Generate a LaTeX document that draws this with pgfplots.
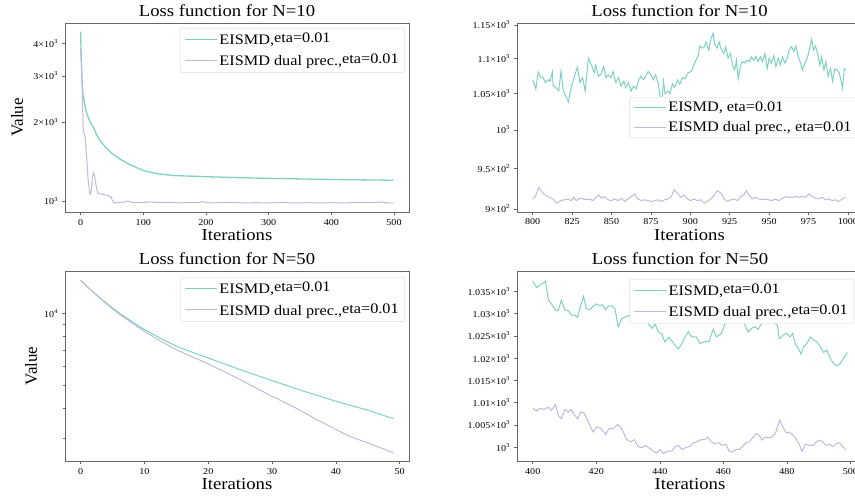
\documentclass[border=0pt]{standalone}
\usepackage{fontspec}
\setmainfont{Liberation Serif}[FakeStretch=1.12]
\newfontfamily\plainserif{Liberation Serif}
\usepackage{pgfplots}
\pgfplotsset{compat=1.18}

\definecolor{eisgreen}{RGB}{125,211,192}
\definecolor{eispurple}{RGB}{190,186,218}
\newcommand\tickfont{\fontsize{9}{11}\selectfont}
\newcommand\labfont{\fontsize{16.7}{20}\selectfont}
\newcommand\legfont{\fontsize{14.5}{17}\selectfont}
\newcommand\sx[1]{\textsuperscript{#1}}
\newcommand\raiseeta[1]{\raisebox{2pt}{#1}}

\tikzset{
  gline/.style={draw=eisgreen, line width=1pt},
  pline/.style={draw=eispurple, line width=1pt},
}
\pgfplotsset{
  losspanel/.style={
    scale only axis, anchor=south west,
    axis line style={black!60, line width=0.8pt},
    tick style={black!60, line width=0.6pt},
    tick align=outside, major tick length=3.5pt, minor tick length=2pt,
    xtick pos=left, ytick pos=left,
    tick label style={font=\tickfont},
    title style={font=\labfont, at={(0.5,1)}, anchor=base, yshift=0pt, xshift=-10pt},
    xlabel style={font=\labfont, at={(0.5,0)}, anchor=base, yshift=-29pt},
    ylabel style={font=\plainserif\fontsize{17}{20}\selectfont, anchor=center},
    legend cell align=left,
    legend style={font=\legfont, draw=black!15, rounded corners=2pt, fill=white,
      inner xsep=4pt, inner ysep=3pt, row sep=4pt},
  },
}

\begin{document}
\begin{tikzpicture}

% top left: N=10, full run
\begin{axis}[ymode=log, losspanel, at={(65pt,286pt)}, width=344pt, height=189pt,
  /pgf/number format/assume math mode=true, /pgf/number format/1000 sep={},
  legend image code/.code={\draw[#1] (0pt,0pt) -- (32pt,0pt);},
  xmin=-24.95, xmax=523.95, ymin=908, ymax=4775,
  xtick={0,100,...,500}, ytick={1000,2000,3000,4000},
  yticklabels={10\sx{3}, 2×10\sx{3}, 3×10\sx{3}, 4×10\sx{3}},
  title={Loss function for N=10}, xlabel={Iterations}, ylabel={Value},
  ylabel style={at={(axis description cs:-0.1395,0.5)}},
  legend style={at={(0.988,0.974)}, anchor=north east}]
\addlegendimage{draw=eisgreen, line width=1.3pt}
\addlegendentry{EISMD,\raiseeta{eta=0.01}}
\addlegendimage{draw=eispurple, line width=1pt}
\addlegendentry{EISMD dual prec.,\raiseeta{eta=0.01}}
\addplot[gline, line width=1.3pt, forget plot] coordinates {
(0,4430)(1,3500)(2,3000)(3,2700)(4,2530)(6,2380)(8,2250)(10,2150)(12,2090)
(15,2000)(20,1920)(25,1800)(30,1711)(40,1600)(50,1520)(60,1460)(75,1390)
(100,1306)(125,1268)(150,1250)(200,1238)(250,1228)(300,1220)(400,1208)(499,1200)};
\addplot[pline, forget plot] coordinates {
(0,3830)(1,3400)(2,2980)(3,2400)(4,1900)(5,1830)(6,1800)(7,1760)(8,1650)(9,1520)
(10,1433)(11,1300)(12,1200)(13,1150)(14,1090)(15,1060)(16,1065)(17,1100)(18,1160)
(19,1230)(20,1275)(21,1280)(22,1255)(23,1220)(24,1180)(25,1130)(26,1095)(27,1075)
(28,1068)(30,1066)(33,1062)(36,1058)(40,1054)(44,1048)(47,1040)(49,1030)(51,1000)
(53,986)(56,984)(60,986)(65,990)(70,990)(75,1000)(78,995)(82,988)(90,986)(100,987)
(105,990)(110,993)(115,990)(120,987)(130,986)(140,988)(150,986)(160,984)(170,986)
(180,985)(190,988)(195,995)(200,986)(210,984)(220,985)(240,986)(260,984)(280,985)
(300,984)(320,986)(340,984)(360,985)(380,984)(400,985)(420,984)(440,986)(460,985)
(475,988)(480,992)(485,986)(499,981)};
\end{axis}

% top right: N=10, iterations 800-1000
\begin{axis}[ymode=log, losspanel, at={(517pt,286pt)}, width=345pt, height=189pt,
  /pgf/number format/assume math mode=true, /pgf/number format/1000 sep={},
  legend image code/.code={\draw[#1] (0pt,0pt) -- (32pt,0pt);},
  xmin=790.05, xmax=1008.95, ymin=896.4, ymax=1153,
  xtick={800,825,...,1000}, ytick={900,950,1000,1050,1100,1150},
  yticklabels={9×10\sx{2}, 9.5×10\sx{2}, 10\sx{3}, 1.05×10\sx{3}, 1.1×10\sx{3}, 1.15×10\sx{3}},
  title={Loss function for N=10}, xlabel={Iterations},
  legend style={at={(0.325,0.608)}, anchor=north west}]
\addlegendimage{draw=eisgreen, line width=1pt}
\addlegendentry{EISMD, eta=0.01}
\addlegendimage{draw=eispurple, line width=1pt}
\addlegendentry{EISMD dual prec., eta=0.01}
\addplot[gline, forget plot] coordinates {
(800,1069)(802,1056)(803.5,1080)(805,1072)(806.5,1073)(808,1065)(810,1069)(811,1067)
(812.5,1080)(813,1061)(815,1057)(816.5,1053)(818,1081)(819.5,1053)(821,1046)(822.7,1038)
(824.4,1058)(826.5,1074)(828.4,1087)(830,1065)(831.7,1072)(833.3,1053)(835.4,1100)
(837.5,1089)(839,1079)(840,1090)(841.7,1074)(843.3,1077)(845,1088)(846.5,1072)(848,1076)
(849.7,1072)(851,1081)(852.8,1065)(854.5,1072)(856,1060)(857.8,1067)(859,1058)(860.8,1065)
(862.5,1053)(864,1060)(865.6,1056)(867,1067)(868.7,1074)(870.3,1069)(871.7,1074)
(873.3,1081)(875,1076)(876.5,1069)(878,1076)(879.7,1063)(880.8,1046)(881.8,1035)(883,1067)
(884,1049)(885.7,1053)(887,1049)(888.7,1063)(890,1058)(892,1069)(893.3,1063)(895,1072)
(896.5,1070)(898.6,1079)(900.7,1081)(902.8,1093)(905,1104)(906,1118)(907.5,1115)(909,1117)
(910,1124)(911.7,1112)(913,1128)(914.5,1137)(915.5,1121)(917,1115)(918.3,1124)(919.8,1112)
(921.3,1107)(922.5,1117)(924,1100)(925.5,1107)(926.8,1090)(928.2,1083)(929.3,1097)
(930.4,1070)(931.8,1088)(933,1095)(934.6,1093)(936,1097)(937.3,1095)(938.8,1102)
(940.3,1097)(941.6,1103)(943,1095)(944.5,1102)(945.8,1095)(947.3,1107)(948.8,1085)
(950,1100)(951.5,1093)(953,1104)(954.3,1088)(955.8,1100)(957.2,1090)(958.5,1102)(960,1093)
(961.5,1100)(962.7,1112)(964.2,1117)(965.7,1110)(967,1118)(968.5,1102)(970,1093)
(971.2,1083)(972.7,1093)(974.2,1100)(975.5,1112)(977,1128)(978.2,1112)(979.5,1118)
(980.7,1107)(982.2,1090)(983.3,1102)(984.8,1083)(986,1095)(987.5,1074)(989,1085)
(990.3,1067)(991.7,1085)(993.2,1083)(994.5,1079)(995.5,1069)(996.6,1057)(997.7,1085)(998.7,1083)};
\addplot[pline, forget plot] coordinates {
(800,912)(801.7,915)(803.8,926)(806.6,919)(808.7,916)(810.8,914)(812.9,912)(815,907)
(818,910)(820,911)(822.4,912)(824.5,910)(826,914)(827.7,910)(830,913)(832,912)(834,911)
(836,912)(838,910)(840.4,914)(841.9,917)(843.6,913)(845.7,915)(847.8,911)(850,910)
(852,912)(854.2,910)(856.3,913)(858.4,909)(860.5,912)(862.6,915)(864.8,918)(866.8,912)
(869,910)(871,911)(873.2,910)(875.3,909)(877.4,910)(879.6,911)(881.7,909)(883.8,911)
(886,912)(888,915)(889.7,923)(891.9,919)(894,914)(896,917)(898.2,912)(900.3,910)
(902.4,912)(904.5,910)(906.6,911)(908.8,907)(910.9,909)(913,912)(915,916)(917.2,922)
(919.4,919)(921.5,912)(923.6,909)(925.7,911)(927.8,912)(930,910)(932,915)(934,917)
(935.6,922)(937,918)(939.2,912)(941.3,914)(943.4,912)(945.5,911)(947.6,912)(949.7,911)
(951.8,910)(954,912)(956,910)(958,912)(960.4,915)(962.5,914)(964.6,914)(966.7,915)
(968.8,914)(971,915)(973,914)(975.2,918)(977.3,915)(979.4,913)(981.6,912)(983.7,914)
(985.8,911)(987.9,912)(990,910)(992,911)(994.2,909)(996.4,912)(998.5,914)};
\end{axis}

% bottom left: N=50, full run
\begin{axis}[ymode=log, losspanel, at={(65pt,37pt)}, width=344pt, height=190pt,
  /pgf/number format/assume math mode=true, /pgf/number format/1000 sep={},
  legend image code/.code={\draw[#1] (0pt,0pt) -- (32pt,0pt);},
  xmin=-2.45, xmax=51.45, ymin=2424, ymax=15000,
  xtick={0,10,...,50}, ytick={10000}, yticklabels={10\sx{4}},
  minor ytick={3000,4000,5000,6000,7000,8000,9000},
  title={Loss function for N=50}, xlabel={Iterations}, ylabel={Value},
  ylabel style={at={(axis description cs:-0.0988,0.5)}},
  legend style={at={(0.988,0.968)}, anchor=north east}]
\addlegendimage{draw=eisgreen, line width=1pt}
\addlegendentry{EISMD,\raiseeta{eta=0.01}}
\addlegendimage{draw=eispurple, line width=1pt}
\addlegendentry{EISMD dual prec.,\raiseeta{eta=0.01}}
\addplot[gline, forget plot] coordinates {
(0,13730)(1,12950)(2,12250)(3,11600)(4,11050)(5,10520)(6,10050)(8,9250)(10,8550)
(12,8000)(15,7285)(18,6800)(20,6510)(25,5820)(30,5240)(35,4730)(40,4300)(45,3945)(49,3640)};
\addplot[pline, forget plot] coordinates {
(0,13730)(1,12930)(2,12200)(3,11550)(4,10980)(5,10420)(6,9950)(8,9120)(10,8410)
(12,7800)(15,7050)(18,6500)(20,6150)(22,5800)(25,5290)(28,4800)(30,4510)(33,4120)
(35,3867)(37,3603)(38,3500)(40,3276)(42,3080)(45,2883)(47,2750)(49,2620)};
\end{axis}

% bottom right: N=50, iterations 400-500 (range is narrow, so linear y)
\begin{axis}[losspanel, at={(517pt,37pt)}, width=346pt, height=190pt,
  /pgf/number format/assume math mode=true, /pgf/number format/1000 sep={},
  legend image code/.code={\draw[#1] (0pt,0pt) -- (32pt,0pt);},
  xmin=395.05, xmax=503.95, ymin=996.9, ymax=1039.6,
  xtick={400,420,...,500}, ytick={1000,1005,1010,1015,1020,1025,1030,1035},
  yticklabels={10\sx{3}, 1.005×10\sx{3}, 1.01×10\sx{3}, 1.015×10\sx{3}, 1.02×10\sx{3}, 1.025×10\sx{3}, 1.03×10\sx{3}, 1.035×10\sx{3}},
  title={Loss function for N=50}, xlabel={Iterations},
  legend style={at={(0.325,0.958)}, anchor=north west}]
\addlegendimage{draw=eisgreen, line width=1pt}
\addlegendentry{EISMD,\raiseeta{eta=0.01}}
\addlegendimage{draw=eispurple, line width=1pt}
\addlegendentry{EISMD dual prec.,\raiseeta{eta=0.01}}
\addplot[gline, forget plot] coordinates {
(400,1037.3)(401.2,1035.9)(402.5,1036.5)(404,1037.3)(405,1033.0)(405.9,1032.2)(407.2,1030.7)
(408,1030.7)(409,1033.0)(410.1,1030.9)(411.1,1030.7)(412.2,1029.7)(413.2,1029.7)(414.1,1029.2)
(415.1,1031.8)(416,1033.9)(416.9,1031.1)(418,1030.9)(419,1031.7)(420.1,1032.2)(421.1,1031.8)
(422,1032.0)(422.9,1030.9)(423.8,1031.7)(424.8,1031.8)(425.9,1031.1)(426.9,1027.0)(428,1028.9)
(429,1029.2)(430,1029.6)(431.1,1029.2)(432.2,1029.2)(433.4,1029.2)(434.5,1028.9)(435.5,1029.0)
(436.6,1027.5)(437.6,1026.7)(438.5,1027.7)(439.5,1025.9)(440.6,1025.5)(441.6,1023.6)
(442.7,1024.7)(443.7,1024.0)(444.8,1022.9)(445.8,1022.1)(446.9,1023.2)(447.9,1024.7)
(449,1026.0)(450,1024.8)(451.5,1024.8)(452.6,1023.3)(454.1,1023.7)(455.5,1023.7)(456.8,1026.5)
(457.8,1024.8)(459.4,1025.6)(460.5,1027.8)(461.5,1028.5)(462.6,1028.9)(463.6,1029.7)
(464.7,1030.4)(465.7,1031.3)(466.8,1027.4)(467.8,1025.9)(468.9,1026.7)(469.9,1027.1)
(471,1026.5)(472,1027.8)(473.1,1029.3)(474.2,1028.5)(475.2,1029.7)(476.2,1028.0)(477,1027.4)
(477.6,1024.4)(478.9,1025.2)(479.9,1025.6)(481,1024.8)(481.8,1025.6)(482.6,1023.3)
(483.6,1022.2)(484.5,1020.9)(485.2,1022.6)(486.3,1023.3)(487.3,1024.8)(488.4,1024.1)
(489.4,1023.7)(490.5,1022.6)(491.5,1021.3)(492.6,1021.8)(493.6,1020.0)(494.7,1018.8)
(495.7,1018.3)(496.8,1018.8)(497.8,1020.0)(499,1021.3)};
\addplot[pline, forget plot] coordinates {
(400.1,1008.7)(401.2,1008.1)(402.2,1008.7)(403.6,1008.5)(404.8,1009.0)(405.9,1008.3)
(407.2,1009.6)(408,1007.2)(409,1006.4)(410.1,1008.5)(411.1,1007.9)(412,1008.5)(413,1007.4)
(414.1,1006.4)(415.1,1007.9)(416.2,1007.7)(417.5,1005.7)(419,1003.4)(420.1,1004.6)
(421.5,1004.2)(423,1002.9)(424,1004.2)(425.4,1004.2)(426.7,1005.1)(428,1004.2)(429.6,1001.7)
(430.9,1001.2)(432,1001.7)(433,1000.2)(434.3,999.9)(435.5,1000.4)(436.9,999.7)(438,999.1)
(439,998.7)(440.1,999.5)(441.1,998.6)(442.5,999.1)(443.7,999.1)(445,1000.2)(445.9,1000.4)
(446.9,999.5)(448.2,999.9)(449.5,1000.2)(450.6,1001.0)(451.6,1001.2)(453,1001.7)(454.3,1001.7)
(455.1,1002.3)(456.2,1001.2)(457.4,1000.8)(458.5,1001.0)(459.7,1000.4)(460.8,1000.7)
(461.8,999.1)(462.9,998.9)(463.9,999.5)(465,999.5)(466,1000.1)(467.1,1001.0)(468.2,1001.2)
(469.2,1002.1)(470.3,1003.1)(471.3,1002.7)(472.2,1001.6)(473.2,1002.3)(474.3,1002.1)
(475.3,1002.3)(476.4,1003.1)(477.7,1006.1)(478.7,1004.6)(479.8,1003.2)(480.8,1003.4)
(481.8,1002.8)(482.9,1001.9)(484,1000.4)(484.8,999.1)(485.8,1000.7)(487.1,1000.4)
(488.2,1000.4)(489.2,1001.2)(490.3,1001.6)(491.3,1001.2)(492.4,1000.4)(493.4,1000.7)
(494.5,1000.1)(495.5,1000.8)(496.6,1001.0)(497.6,1000.1)(498.7,999.3)};
\end{axis}

\pgfresetboundingbox
\path[use as bounding box] (0,0) rectangle (855pt,498pt);
\end{tikzpicture}
\end{document}
